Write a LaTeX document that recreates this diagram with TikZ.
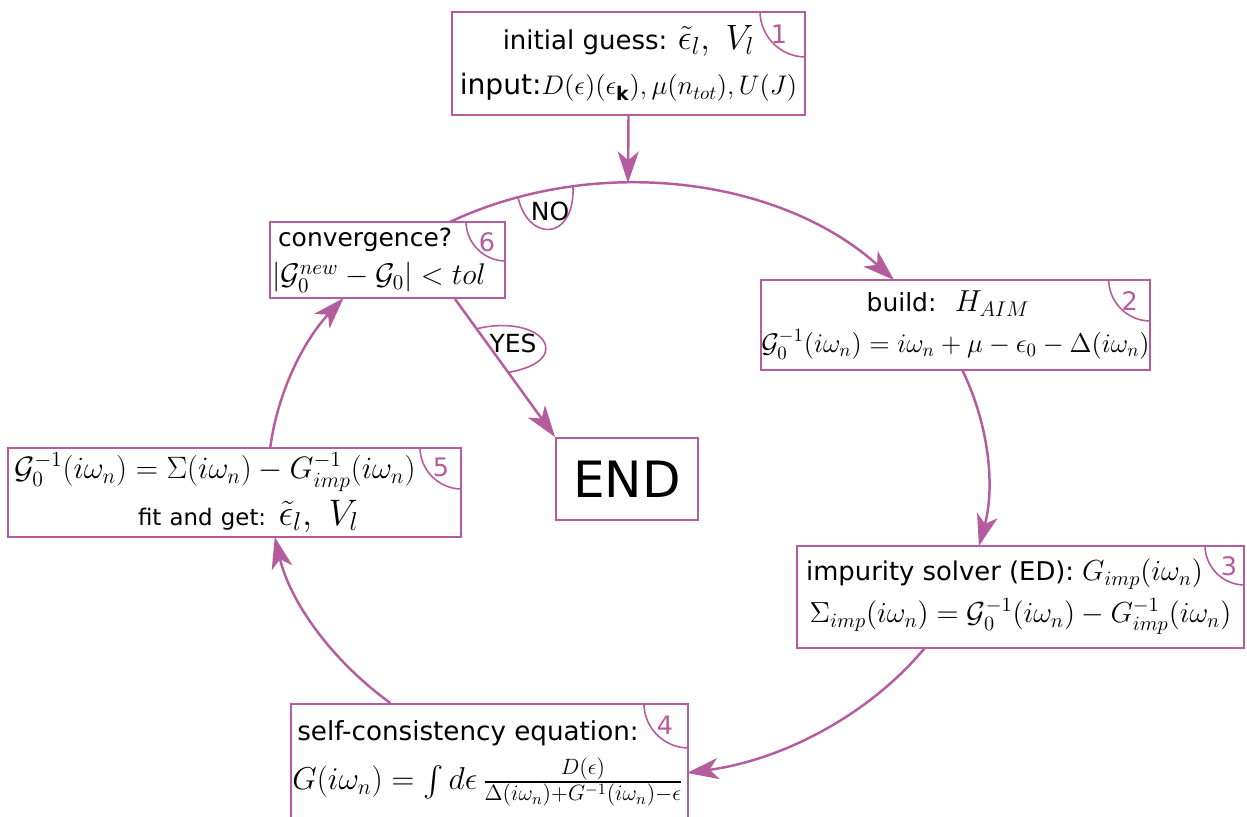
\RequirePackage{fix-cm}
\documentclass[tikz,border=0pt]{standalone}
\usepackage{exscale}
\usepackage{fontspec}
\setmainfont{DejaVu Sans}
\usetikzlibrary{arrows.meta,calc}
\definecolor{pl}{RGB}{180,92,158}
\newcommand\msz[2]{{\fontsize{#1}{17}\selectfont$#2$}}
\newcommand\tsz[2]{{\fontsize{#1}{17}\selectfont #2}}
\begin{document}
\begin{tikzpicture}[x=0.02cm,y=-0.02cm,
  txt/.style={font=\fontsize{14.2}{17}\selectfont, text=black},
  box/.style={txt, draw=pl, line width=1.1pt, fill=white, inner sep=0pt},
  num/.style={text=pl, font=\fontsize{14.5}{17}\selectfont, inner sep=0pt},
  arr/.style={draw=pl, line width=1.4pt, -{Stealth[length=18pt,width=12pt,inset=5pt]}},
  corner/.style={draw=pl, line width=0.9pt},
  ell/.style={x radius=7.2cm, y radius=5.94cm}]
\clip (0,0) rectangle (1247,816);
\fill[white] (0,0) rectangle (1247,816);

% ---------- boxes ----------
\node[box, minimum width=7.06cm, minimum height=2.06cm, align=center] (b1) at (628.5,63.5)
  {\tsz{14.8}{initial guess:} \msz{20}{\tilde\epsilon_l,\; V_l}\\[9pt]\tsz{16}{input:}\msz{15.3}{D(\epsilon)(\epsilon_{\mathbf k}),\mu(n_{tot}),U(J)}};

\node[box, minimum width=4.7cm, minimum height=1.52cm, text width=4.38cm, align=left] (b6) at (387.5,260)
  {convergence?\\[5pt]\mbox{\hspace*{-0.12cm}\msz{17}{|\mathcal{G}_0^{new}-\mathcal{G}_0|<tol}}};

\node[box, minimum width=7.7cm, minimum height=1.8cm, align=center] (b2) at (955.5,325)
  {build: \ \msz{17.3}{H_{AIM}}\hspace*{0.3cm}\\[6pt]\msz{15.3}{\mathcal{G}_0^{-1}(i\omega_n)=i\omega_n+\mu-\epsilon_0-\Delta(i\omega_n)}};

\node[box, minimum width=2.84cm, minimum height=1.64cm, font=\fontsize{28.5}{30}\selectfont] (end) at (627,479) {END};

\node[box, minimum width=9.06cm, minimum height=1.78cm, text width=8.82cm, align=left] (b5) at (234.5,492.5)
  {\msz{17.6}{\mathcal{G}_0^{-1}(i\omega_n)=\Sigma(i\omega_n)-G^{-1}_{imp}(i\omega_n)}\\[4pt]\hspace*{2.48cm}\tsz{13}{fit and get:} \msz{21}{\tilde\epsilon_l,\; V_l}};

\node[box, minimum width=8.94cm, minimum height=2.04cm, align=center] (b3) at (1020.5,597)
  {\tsz{14.7}{impurity solver (ED):} \msz{16.5}{G_{imp}(i\omega_n)}\hspace*{0.64cm}\\[4pt]\msz{16.5}{\Sigma_{imp}(i\omega_n)=\mathcal{G}_0^{-1}(i\omega_n)-G^{-1}_{imp}(i\omega_n)}};

\node[box, anchor=north west, minimum width=7.94cm, minimum height=2.6cm] (b4) at (290,703) {};
\node[txt, anchor=north west, inner sep=0pt, align=left] (t4) at (292,720)
  {\hspace*{0.1cm}\tsz{14.9}{self-consistency equation:}\\[6pt]\mbox{\msz{18}{G(i\omega_n)=\int d\epsilon\,\frac{D(\epsilon)}{\Delta(i\omega_n)+G^{-1}(i\omega_n)-\epsilon}}}};

% ---------- corner marks ----------
\foreach \b/\r/\n/\dx/\dy in {b1/0.92/1/-27/23, b6/0.8/6/-19/21, b2/0.84/2/-21/22, b5/0.84/5/-21/20, b3/0.8/3/-16/21, b4/0.9/4/-24/22}{
  \draw[corner] ($(\b.north east)+(-\r cm,0pt)$) arc[start angle=180, end angle=270, radius=\r cm];
  \node[num] (n\n) at ($(\b.north east)+(\dx,\dy)$) {\n};
}

% ---------- loop (ellipse) ----------
\coordinate (C) at (628,480);
\coordinate (top) at ($(C)+(90:7.2cm and 5.94cm)$);
\coordinate (p6t) at ($(C)+(119.7:7.2cm and 5.94cm)$);
\coordinate (p2b) at ($(C)+(21.74:7.2cm and 5.94cm)$);
\coordinate (p3b) at ($(C)+(-34.45:7.2cm and 5.94cm)$);
\coordinate (p4t) at ($(C)+(-131.3:7.2cm and 5.94cm)$);
\coordinate (p5t) at ($(C)+(173.8:7.2cm and 5.94cm)$);

\draw[arr] (b1.south) -- (top);
\draw[arr] (p6t) arc[ell, start angle=119.7, end angle=42.33];
\draw[arr] (p2b) arc[ell, start angle=21.74, end angle=-12.84];
\draw[arr] (p3b) arc[ell, start angle=-34.45, end angle=-80.57];
\draw[arr] (p4t) arc[ell, start angle=-131.3, end angle=-168.94];
\draw[arr] (p5t) arc[ell, start angle=173.8, end angle=142.2];

% ---------- YES branch ----------
\draw[arr] (b6.-30.5) -- (end.north west);
\coordinate (ya) at ($(b6.-30.5)!0.216!(end.north west)$);
\coordinate (yb) at ($(b6.-30.5)!0.532!(end.north west)$);
\draw[corner] (ya) .. controls +(66,-16) and +(69,-12) .. (yb);
\node[txt, inner sep=0pt] (yes) at (513,343) {YES};

% ---------- NO label ----------
\coordinate (noa) at ($(C)+(107.79:7.2cm and 5.94cm)$);
\coordinate (nob) at ($(C)+(98.79:7.2cm and 5.94cm)$);
\draw[corner] (noa) .. controls +(10,45) and +(2,55) .. (nob);
\node[txt, inner sep=0pt] (no) at (550,211) {NO};
\end{tikzpicture}
\end{document}
